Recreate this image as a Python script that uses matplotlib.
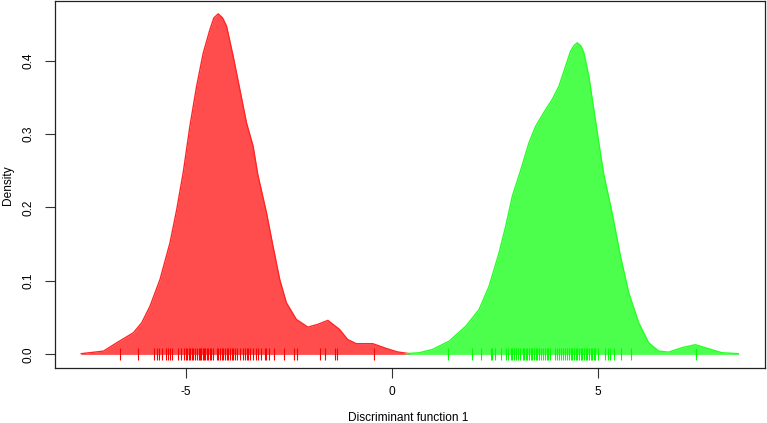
import matplotlib
matplotlib.use("Agg")
import matplotlib.pyplot as plt

plt.rcParams['font.family'] = ['Liberation Sans', 'DejaVu Sans']
plt.rcParams['axes.unicode_minus'] = False

# Density curve of group 1 (red)
red_x = [-7.542, -7.002, -6.678, -6.276, -6.073, -5.872, -5.630, -5.387, -5.225, -5.065,
         -4.903, -4.741, -4.581, -4.419, -4.322, -4.218, -4.111, -4.015, -3.855, -3.692,
         -3.530, -3.370, -3.257, -3.046, -2.886, -2.724, -2.562, -2.320, -2.039, -1.804,
         -1.554, -1.271, -1.077, -0.867, -0.465, -0.140, 0.133, 0.424]
red_y = [0.001, 0.0045, 0.0159, 0.0295, 0.0431, 0.0657, 0.102, 0.152, 0.197, 0.248,
         0.311, 0.365, 0.410, 0.442, 0.458, 0.4635, 0.458, 0.4467, 0.406, 0.3605,
         0.315, 0.2834, 0.245, 0.193, 0.147, 0.102, 0.0703, 0.0476, 0.0371, 0.0408,
         0.0463, 0.034, 0.0204, 0.0146, 0.0146, 0.0082, 0.0034, 0.001]

# Density curve of group 2 (green)
green_x = [0.344, 0.666, 0.988, 1.392, 1.797, 2.119, 2.361, 2.603, 2.765, 2.925,
           3.111, 3.329, 3.492, 3.734, 3.893, 4.056, 4.218, 4.339, 4.419, 4.499,
           4.588, 4.661, 4.782, 4.903, 5.024, 5.145, 5.346, 5.550, 5.751, 5.993,
           6.235, 6.477, 6.719, 7.041, 7.366, 7.688, 8.010, 8.414]
green_y = [0.001, 0.0023, 0.0068, 0.0181, 0.0385, 0.0612, 0.0929, 0.1384, 0.1746, 0.2154,
           0.2476, 0.288, 0.3106, 0.3333, 0.3469, 0.365, 0.3922, 0.4127, 0.420, 0.4241,
           0.420, 0.4105, 0.3786, 0.3333, 0.288, 0.2449, 0.1928, 0.1337, 0.0839, 0.0431,
           0.0159, 0.0045, 0.0031, 0.0091, 0.0132, 0.0078, 0.0023, 0.001]

# Rug (individual discriminant scores)
red_rug = [-6.598, -6.155, -5.768, -5.709, -5.646, -5.588, -5.492, -5.429, -5.380, -5.346,
           -5.186, -5.128, -5.048, -5.000, -4.968, -4.935, -4.903, -4.862, -4.823, -4.782,
           -4.734, -4.685, -4.661, -4.629, -4.596, -4.564, -4.533, -4.499, -4.460, -4.419,
           -4.387, -4.354, -4.257, -4.218, -4.177, -4.136, -4.097, -4.056, -4.015, -3.976,
           -3.935, -3.894, -3.855, -3.814, -3.758, -3.692, -3.627, -3.571, -3.530, -3.491,
           -3.433, -3.370, -3.288, -3.249, -3.167, -3.087, -3.046, -2.983, -2.869, -2.620,
           -2.378, -2.312, -1.738, -1.634, -1.392, -1.337, -0.441]
green_rug = [1.351, 1.941, 2.159, 2.401, 2.441, 2.506, 2.659, 2.781, 2.829, 2.885,
             2.926, 2.966, 3.007, 3.055, 3.104, 3.184, 3.216, 3.249, 3.289, 3.329,
             3.370, 3.410, 3.450, 3.491, 3.531, 3.571, 3.612, 3.668, 3.717, 3.757,
             3.797, 3.830, 3.959, 4.015, 4.056, 4.104, 4.153, 4.201, 4.257, 4.298,
             4.339, 4.378, 4.419, 4.460, 4.499, 4.540, 4.581, 4.620, 4.661, 4.702,
             4.741, 4.782, 4.823, 4.862, 4.903, 4.944, 5.000, 5.186, 5.249, 5.291,
             5.387, 5.574, 5.806, 7.390]

x_ticks = [-5, 0, 5]
y_ticks = [0.0, 0.1, 0.2, 0.3, 0.4]
y_ticklabels = ["0.0", "0.1", "0.2", "0.3", "0.4"]

fig = plt.figure(figsize=(7.67, 4.23), dpi=100)
ax = fig.add_axes([55 / 767, 55 / 423, 710 / 767, 367 / 423])

ax.fill_between(red_x, red_y, 0, color=(1.0, 0.3, 0.3), linewidth=0, zorder=2)
ax.plot(red_x, red_y, color=(1.0, 0.15, 0.15), linewidth=1.0, zorder=3,
        solid_joinstyle='round')
ax.fill_between(green_x, green_y, 0, color=(0.3, 1.0, 0.3), linewidth=0, zorder=2)
ax.plot(green_x, green_y, color=(0.15, 1.0, 0.15), linewidth=1.0, zorder=3,
        solid_joinstyle='round')

ax.plot(red_rug, [0] * len(red_rug), linestyle='none', marker='|', markersize=8,
        markeredgewidth=0.8, color='red', zorder=4)
ax.plot(green_rug, [0] * len(green_rug), linestyle='none', marker='|', markersize=8,
        markeredgewidth=0.8, color=(0, 1, 0), zorder=4)

ax.set_xlim(-8.18, 9.06)
ax.set_ylim(-0.0185, 0.481)
ax.set_xticks(x_ticks)
ax.set_xticklabels([str(v) for v in x_ticks])
ax.set_yticks(y_ticks)
ax.set_yticklabels(y_ticklabels, rotation=90, va='center')
ax.tick_params(axis='both', direction='out', length=7, width=0.8, labelsize=8.6,
               color='#333333')
ax.tick_params(axis='x', pad=6)
ax.tick_params(axis='y', pad=8)
for s in ax.spines.values():
    s.set_linewidth(0.9)
    s.set_color('#222222')

fig.text(408 / 767, 1 - 418 / 423, "Discriminant function 1", fontsize=8.6,
         ha='center', va='center')
fig.text(8 / 767, 1 - 185 / 423, "Density", fontsize=8.6, rotation=90,
         ha='center', va='center')

fig.savefig("out.png", dpi=100)
